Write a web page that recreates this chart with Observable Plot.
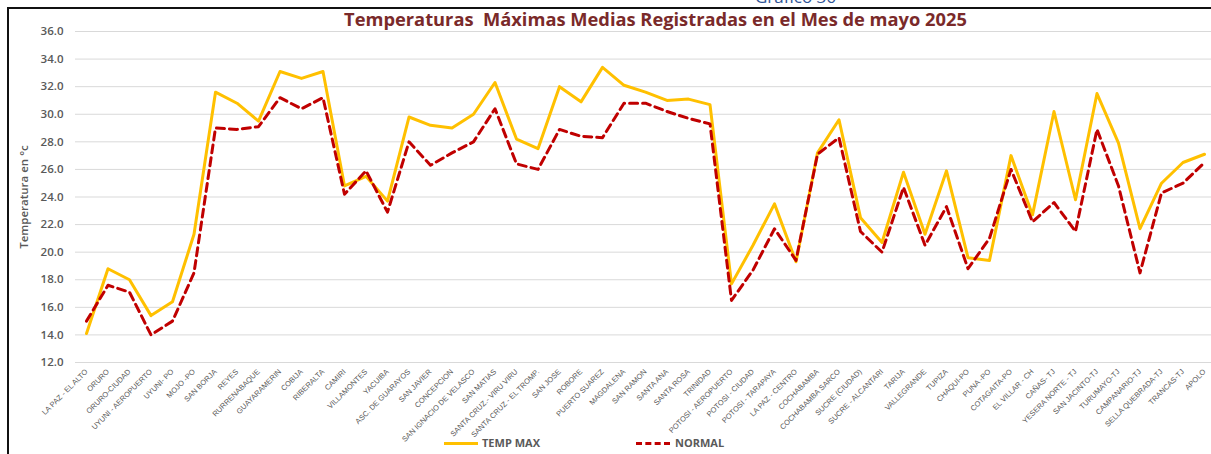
<!DOCTYPE html>
<html>
<head>
<meta charset="utf-8">
<script src="https://cdn.jsdelivr.net/npm/d3@7"></script>
<script src="https://cdn.jsdelivr.net/npm/@observablehq/plot@0.6"></script>
<style>
  html, body { margin: 0; padding: 0; background: white; }
  #wrap { position: relative; width: 1211px; height: 454px; overflow: hidden; background: white; }
  #top-cut { position: absolute; top: -12px; left: 0; width: 1211px; text-align: center; padding-left: 380px; box-sizing: border-box;
             font-family: "Open Sans", sans-serif; font-size: 17px; color: #2f5496; line-height: 18px; }
  #bl { position: absolute; left: 7px; top: 7px; width: 2px; height: 460px; background: #111; }
  #bt { position: absolute; left: 7px; top: 7px; width: 1210px; height: 2px; background: #111; }
  #title { height: 26px; box-sizing: border-box; padding-top: 12px; padding-left: 100px; text-align: center;
           font-family: "Open Sans", sans-serif; font-weight: bold; font-size: 18.3px; line-height: 14px; color: #7a2a2a; }
  #legend { position: relative; height: 22px; font-family: "Open Sans", sans-serif; font-weight: bold; font-size: 11px; color: #595959; }
  .sw { position: absolute; top: 10px; width: 34px; height: 0; }
  .lt { position: absolute; top: 3px; line-height: 16px; }
</style>
</head>
<body>
<div id="wrap">
  <div id="top-cut">Gráfico 36</div>
  <div id="bt"></div>
  <div id="bl"></div>
  <div id="title">Temperaturas&nbsp; Máximas Medias Registradas en el Mes de mayo 2025</div>
  <div id="chart"></div>
  <div id="legend">
    <div class="sw" style="left:444px; border-top:3px solid #FFC000;"></div>
    <div class="lt" style="left:482px;">TEMP MAX</div>
    <div class="sw" style="left:636px; border-top:3px dashed #C00000;"></div>
    <div class="lt" style="left:675px;">NORMAL</div>
  </div>
</div>
<script>
const stations = [
  "LA PAZ - EL ALTO", "ORURO", "ORURO-CIUDAD", "UYUNI - AEROPUERTO", "UYUNI- PO", "MOJO -PO",
  "SAN BORJA", "REYES", "RURRENABAQUE", "GUAYARAMERIN", "COBIJA", "RIBERALTA", "CAMIRI",
  "VILLAMONTES", "YACUIBA", "ASC. DE GUARAYOS", "SAN JAVIER", "CONCEPCION", "SAN IGNACIO DE VELASCO",
  "SAN MATIAS", "SANTA CRUZ.- VIRU VIRU", "SANTA CRUZ - EL TROMP.", "SAN JOSE", "ROBORE",
  "PUERTO SUAREZ", "MAGDALENA", "SAN RAMON", "SANTA ANA", "SANTA ROSA", "TRINIDAD",
  "POTOSI - AEROPUERTO", "POTOSI - CIUDAD", "POTOSI - TARAPAYA", "LA PAZ - CENTRO", "COCHABAMBA",
  "COCHABAMBA SARCO", "SUCRE (CIUDAD)", "SUCRE - ALCANTARI", "TARIJA", "VALLEGRANDE", "TUPIZA",
  "CHAQUI-PO", "PUNA -PO", "COTAGAITA-PO", "EL VILLAR - CH", "CAÑAS- TJ", "YESERA NORTE - TJ",
  "SAN JACINTO-TJ", "TURUMAYO-TJ", "CAMPANARIO-TJ", "SELLA QUEBRADA-TJ", "TRANCAS-TJ", "APOLO"
];
const tempMax = [
  14.1, 18.8, 18.0, 15.4, 16.4, 21.3, 31.6, 30.8, 29.5, 33.1, 32.6, 33.1, 24.8,
  25.5, 23.7, 29.8, 29.2, 29.0, 30.0, 32.3, 28.2, 27.5, 32.0, 30.9, 33.4,
  32.1, 31.6, 31.0, 31.1, 30.7, 17.7, 20.5, 23.5, 19.3, 27.2, 29.6, 22.5, 20.7,
  25.8, 21.3, 25.9, 19.6, 19.4, 27.0, 22.7, 30.2, 23.8, 31.5, 27.9, 21.7, 25.0, 26.5, 27.1
];
const normal = [
  15.0, 17.6, 17.1, 14.0, 15.0, 18.5, 29.0, 28.9, 29.1, 31.2, 30.4, 31.2, 24.2,
  25.9, 22.9, 28.0, 26.3, 27.2, 28.0, 30.4, 26.4, 26.0, 28.9, 28.4, 28.3,
  30.8, 30.8, 30.2, 29.7, 29.3, 16.5, 18.7, 21.7, 19.4, 27.1, 28.3, 21.5, 20.0,
  24.7, 20.5, 23.3, 18.8, 21.0, 26.0, 22.2, 23.6, 21.5, 28.9, 24.8, 18.5, 24.3, 25.0, 26.5
];
const yTicks = [12, 14, 16, 18, 20, 22, 24, 26, 28, 30, 32, 34, 36];

const data = stations.map((s, i) => ({station: s, max: tempMax[i], normal: normal[i]}));

const chart = Plot.plot({
  width: 1211,
  height: 406,
  marginTop: 5,
  marginBottom: 70,
  marginLeft: 75,
  marginRight: 0,
  style: {fontFamily: "Open Sans, sans-serif", color: "#595959", background: "white", overflow: "visible"},
  x: {type: "point", domain: stations, range: [86, 1204], padding: 0, round: false},
  y: {domain: [12, 36]},
  marks: [
    Plot.gridY(yTicks, {stroke: "#d9d9d9", strokeOpacity: 1, strokeWidth: 1}),
    Plot.axisY(yTicks, {tickSize: 0, tickPadding: 12, tickFormat: d3.format(".1f"), fontSize: 11.5, fontWeight: 600,
      label: "Temperatura en °c", labelAnchor: "center", labelArrow: "none", labelOffset: 56}),
    Plot.axisX({tickSize: 0, tickRotate: -45, tickPadding: 8, fontSize: 7.5, label: null,
      fontFamily: "Liberation Sans, sans-serif"}),
    Plot.line(data, {x: "station", y: "max", stroke: "#FFC000", strokeWidth: 3, strokeLinejoin: "round"}),
    Plot.line(data, {x: "station", y: "normal", stroke: "#C00000", strokeWidth: 3, strokeDasharray: "8,5"})
  ]
});
document.getElementById("chart").appendChild(chart);
</script>
</body>
</html>
